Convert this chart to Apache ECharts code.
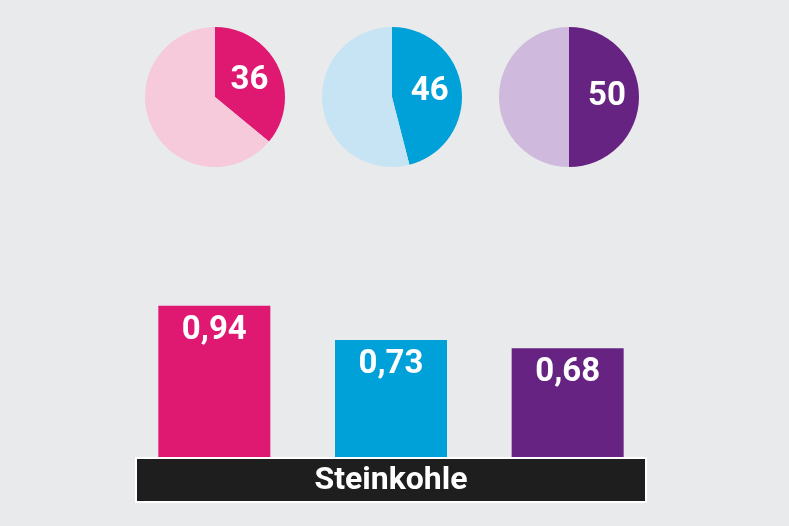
<!DOCTYPE html>
<html>
<head>
<meta charset="utf-8">
<script src="https://cdn.jsdelivr.net/npm/echarts@6/dist/echarts.min.js"></script>
<style>
  html, body { margin: 0; padding: 0; background: #e9eaec; }
  #chart { width: 789px; height: 526px; }
</style>
</head>
<body>
<div id="chart"></div>
<script>
// data
const categories = ['A', 'B', 'C'];
const barValues = [0.94, 0.73, 0.68];
const pieShares = [36, 46, 50];
const bandLabel = 'Steinkohle';

const darkColors = ['#df1872', '#00a0d8', '#662382'];
const lightColors = ['#f6c9db', '#c6e4f4', '#cfb9dc'];
const pieCenters = [215, 392, 569];

const fmt = v => v.toFixed(2).replace('.', ',');

const pieSeries = pieShares.map((share, i) => ({
  type: 'pie',
  center: [pieCenters[i], 97],
  radius: 70,
  startAngle: 90,
  clockwise: true,
  silent: true,
  animation: false,
  labelLine: {show: false},
  data: [
    {
      value: share,
      itemStyle: {color: darkColors[i]},
      label: {
        show: true,
        position: 'inside',
        formatter: String(share),
        color: '#fff',
        fontFamily: 'Roboto',
        fontWeight: 'bold',
        fontSize: 33
      }
    },
    {
      value: 100 - share,
      itemStyle: {color: lightColors[i]},
      label: {show: false}
    }
  ]
}));

const option = {
  backgroundColor: '#e9eaec',
  animation: false,
  grid: {
    left: 126,
    right: 133,
    top: 296,
    bottom: 67
  },
  xAxis: {
    type: 'category',
    data: categories,
    axisLine: {show: false},
    axisTick: {show: false},
    axisLabel: {show: false}
  },
  yAxis: {
    type: 'value',
    min: 0,
    max: 1,
    show: false,
    splitLine: {show: false}
  },
  series: [
    {
      type: 'bar',
      barWidth: 112,
      silent: true,
      data: barValues.map((v, i) => ({value: v, itemStyle: {color: darkColors[i]}})),
      label: {
        show: true,
        position: 'insideTop',
        distance: 8,
        formatter: p => fmt(p.value),
        color: '#fff',
        fontFamily: 'Roboto',
        fontWeight: 'bold',
        fontSize: 33
      }
    },
    ...pieSeries
  ],
  graphic: [
    {
      type: 'rect',
      shape: {x: 136, y: 458, width: 510, height: 44},
      style: {fill: '#1e1e1e', stroke: '#ffffff', lineWidth: 2},
      z: 10
    },
    {
      type: 'text',
      x: 391,
      y: 481,
      z: 11,
      style: {
        text: bandLabel,
        fill: '#fff',
        font: 'bold 32px Roboto',
        textAlign: 'center',
        textVerticalAlign: 'middle'
      }
    }
  ]
};

const myChart = echarts.init(document.getElementById('chart'));
myChart.setOption(option);
</script>
</body>
</html>
